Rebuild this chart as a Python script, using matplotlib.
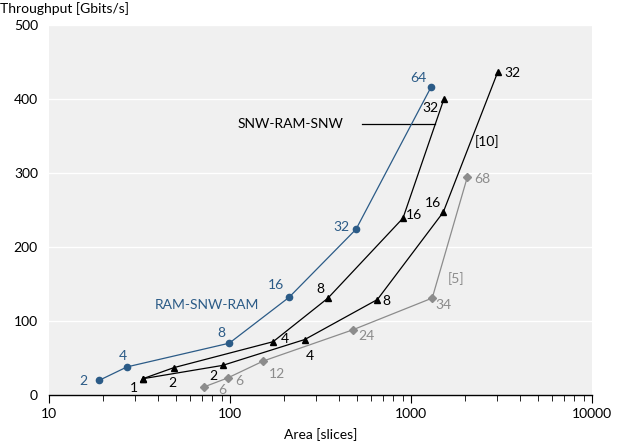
import matplotlib.pyplot as plt
import numpy as np

plt.rcParams['font.family'] = ['Lato', 'DejaVu Sans']
plt.rcParams['font.size'] = 10

# RAM-SNW-RAM (blue)
ram_x = [19, 27, 99, 212, 497, 1290]
ram_y = [20, 38, 70, 132, 224, 416]
ram_lab = ["2", "4", "8", "16", "32", "64"]
ram_off = [(-16, -1), (-4, 11), (-8, 10), (-13, 12), (-15, 2), (-13, 9)]

# SNW-RAM-SNW (black, upper)
snw_x = [33, 49, 173, 348, 903, 1520]
snw_y = [22, 37, 72, 131, 239, 400]
snw_lab = ["1", "2", "4", "8", "16", "32"]
snw_off = [(-9, -9), (-2, -15), (12, 3), (-8, 9), (11, 3), (-13, -9)]

# [10] (black, lower)
r10_x = [33, 91, 259, 652, 1507, 3010]
r10_y = [22, 40, 75, 129, 247, 436]
r10_lab = ["", "2", "4", "8", "16", "32"]
r10_off = [(0, 0), (-9, -11), (5, -16), (9, -1), (-10, 9), (15, -1)]

# [5] (grey)
r5_x = [72, 97, 153, 476, 1310, 2050]
r5_y = [11, 23, 46, 88, 131, 295]
r5_lab = ["6", "6", "12", "24", "34", "68"]
r5_off = [(18, -3), (12, -3), (14, -13), (14, -6), (11, -7), (15, -2)]

blue = "#2b5b87"
grey = "#8c8c8c"

fig = plt.figure(figsize=(6.28, 4.48), dpi=100)
ax = fig.add_axes([49 / 628, 1 - 395 / 448, 543 / 628, 370 / 448])
ax.set_facecolor("#f0f0f0")

series = [
    (ram_x, ram_y, ram_lab, ram_off, blue, "o", 4.5),
    (snw_x, snw_y, snw_lab, snw_off, "black", "^", 5),
    (r10_x, r10_y, r10_lab, r10_off, "black", "^", 5),
    (r5_x, r5_y, r5_lab, r5_off, grey, "D", 4.5),
]
for xs, ys, labs, offs, c, m, ms in series:
    ax.plot(xs, ys, color=c, marker=m, markersize=ms, linewidth=0.9, zorder=3)
    for x, y, t, o in zip(xs, ys, labs, offs):
        if t:
            ax.annotate(t, (x, y), xytext=o, textcoords="offset pixels",
                        ha="center", va="center", color=c, fontsize=10)

ax.text(75, 122, "RAM-SNW-RAM", color=blue, ha="center", va="center", fontsize=10)
ax.text(217, 366, "SNW-RAM-SNW", color="black", ha="center", va="center", fontsize=10)
ax.plot([536, 1358], [366, 366], color="black", linewidth=0.9)
ax.text(2630, 342, "[10]", color="black", ha="center", va="center", fontsize=10)
ax.text(1774, 158, "[5]", color=grey, ha="center", va="center", fontsize=10)

ax.set_xscale("log")
ax.set_xlim(10, 10000)
ax.set_ylim(0, 500)
ax.set_yticks([0, 100, 200, 300, 400, 500])
ax.set_xticks([10, 100, 1000, 10000])
ax.set_xticklabels(["10", "100", "1000", "10000"])
ax.grid(axis="y", color="white", linewidth=1)
ax.set_axisbelow(True)
for s in ["top", "right", "left"]:
    ax.spines[s].set_visible(False)
ax.spines["bottom"].set_linewidth(1)
ax.tick_params(axis="y", length=0, pad=8, labelsize=10)
ax.tick_params(axis="x", which="major", length=6, direction="out", labelsize=10)
ax.tick_params(axis="x", which="minor", length=4, direction="out")

ax.set_xlabel("Area [slices]", fontsize=10, labelpad=6)
fig.text(0.0, 1 - 9 / 448, "Throughput [Gbits/s]", fontsize=10, ha="left", va="center")

fig.savefig("out.png", dpi=100)
